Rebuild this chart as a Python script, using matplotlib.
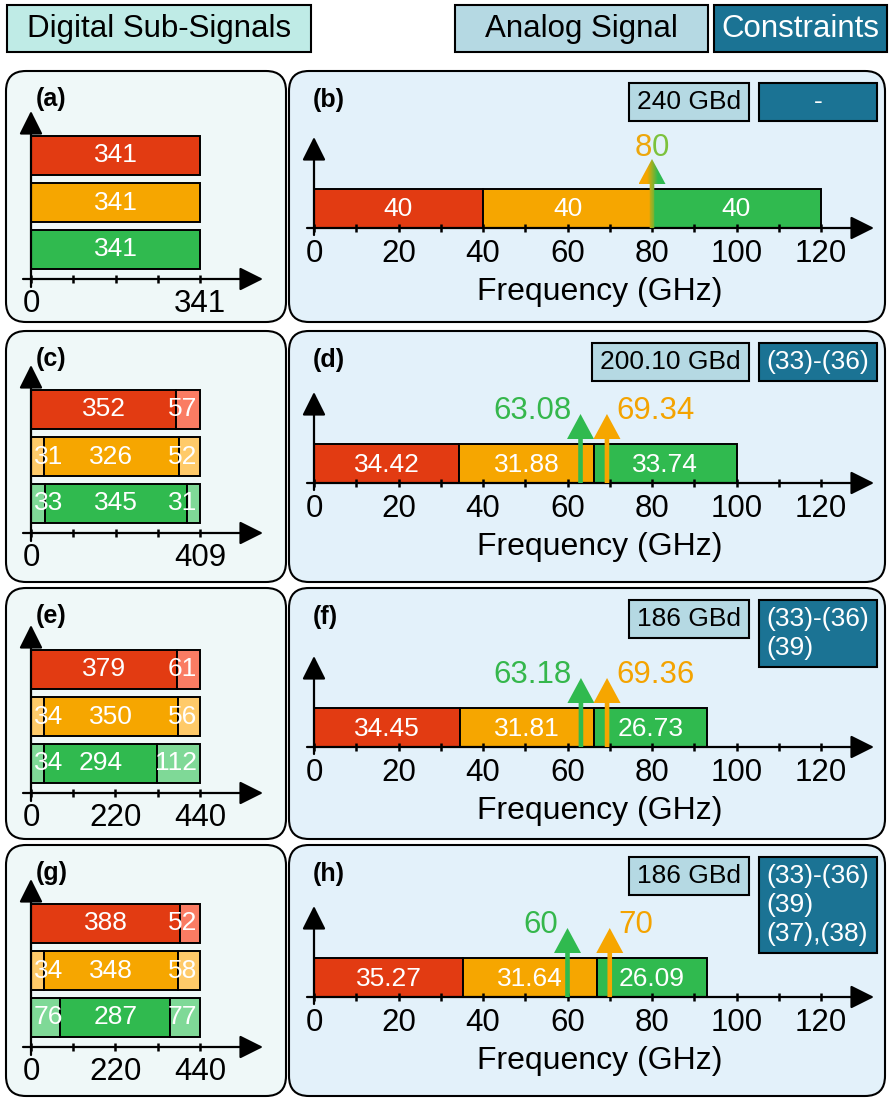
import numpy as np
import matplotlib
matplotlib.use('Agg')
import matplotlib.pyplot as plt
from matplotlib.patches import FancyBboxPatch, Rectangle, Polygon
from matplotlib.colors import LinearSegmentedColormap

plt.rcParams['font.family'] = ['Liberation Sans', 'DejaVu Sans']

# ---- sub-signal symbol allocation (left guard, payload, right guard) ----
left_tags = ['(a)', '(c)', '(e)', '(g)']
sym_total = [341, 409, 440, 440]
sym_tickpos = [[0, 341], [0, 409], [0, 220, 440], [0, 220, 440]]
sym_ticklabels = [['0', '341'], ['0', '409'], ['0', '220', '440'], ['0', '220', '440']]
red_syms = [[0, 341, 0], [0, 352, 57], [0, 379, 61], [0, 388, 52]]
orange_syms = [[0, 341, 0], [31, 326, 52], [34, 350, 56], [34, 348, 58]]
green_syms = [[0, 341, 0], [33, 345, 31], [34, 294, 112], [76, 287, 77]]

# ---- analog spectrum (GHz) ----
right_tags = ['(b)', '(d)', '(f)', '(h)']
bw_red = [40, 34.42, 34.45, 35.27]
bw_orange = [40, 31.88, 31.81, 31.64]
bw_green = [40, 33.74, 26.73, 26.09]
fc_green = [80, 63.08, 63.18, 60]
fc_orange = [80, 69.34, 69.36, 70]
freq_ticks = [0, 20, 40, 60, 80, 100, 120]
freq_minor = [10, 30, 50, 70, 90, 110]
baud_rate = ['240 GBd', '200.10 GBd', '186 GBd', '186 GBd']
constraint_eqs = [['-'], ['(33)-(36)'], ['(33)-(36)', '(39)'],
                  ['(33)-(36)', '(39)', '(37),(38)']]
headers = ['Digital Sub-Signals', 'Analog Signal', 'Constraints']

# ---- colours ----
RED, ORANGE, GREEN = '#E23B12', '#F6A600', '#30BA4F'
RED_L, ORANGE_L, GREEN_L = '#FA7C63', '#FFCA69', '#7FD997'
TEAL_LIGHT, BLUE_LIGHT, TEAL_DARK = '#BFEBE6', '#B5D9E3', '#1B7394'
LEFT_BG, RIGHT_BG = '#EFF8F8', '#E3F1FA'

# ---- layout in pixels ----
W, H = 889, 1099
ROW_TOP = [71, 331, 588, 845]
ROW_H = 251
LEFT_SHIFT = [4, -2, 1, -2]       # content offset inside each rounded box
RIGHT_SHIFT = [2, -3, 4, -3]
LX0, LX1 = 6, 286
RX0, RX1 = 289, 885
L_ZERO, L_SPAN = 31, 169          # left x-axis: 0 at px 31, full count 169 px further
L_BAR_Y, L_BAR_H = [80.5, 127.5, 174.5], 39
L_AXIS, L_TIP, L_LBL = 204, 36, 237
R_ZERO, R_SCALE = 314, 507 / 120  # right x-axis: px per GHz
R_BAR_TOP, R_AXIS, R_TIP, R_LBL, R_XLBL = 116, 155, 64, 189, 227
HEAD_TIP, HEAD_BASE, HEAD_HW, SHAFT_HW = 86, 111, 13.5, 2.3

fig = plt.figure(figsize=(W / 100, H / 100), dpi=100)
canvas = fig.add_axes([0, 0, 1, 1])
canvas.set_xlim(0, W)
canvas.set_ylim(H, 0)
canvas.axis('off')
renderer = fig.canvas.get_renderer()


def px_axes(x0, y0, x1, y1):
    return fig.add_axes([x0 / W, 1 - y1 / H, (x1 - x0) / W, (y1 - y0) / H])


def axis_arrow(ax, start, tip):
    ax.annotate('', xy=tip, xytext=start,
                arrowprops=dict(arrowstyle='-|>', color='black', lw=1.6,
                                mutation_scale=36, shrinkA=0, shrinkB=0))


def rounded_panel(x0, y0, x1, y1, fc):
    canvas.add_patch(FancyBboxPatch((x0, y0), x1 - x0, y1 - y0,
                                    boxstyle='round,pad=0,rounding_size=20',
                                    fc=fc, ec='black', lw=1.5))


# header tags
header_boxes = [(7, 311, TEAL_LIGHT, 'black'), (455, 708, BLUE_LIGHT, 'black'),
                (714, 887, TEAL_DARK, 'white')]
for text, (x0, x1, fc, tc) in zip(headers, header_boxes):
    canvas.add_patch(Rectangle((x0, 5), x1 - x0, 47, fc=fc, ec='black', lw=1.5))
    canvas.text((x0 + x1) / 2, 29, text, ha='center', va='center',
                fontsize=22.5, color=tc)


def draw_symbols(ax, i, dy):
    total = sym_total[i]
    s = L_SPAN / total
    px = lambda p: p / s
    ax.set_xlim((LX0 - L_ZERO) / s, (LX1 - L_ZERO) / s)
    ax.set_ylim(ROW_H, 0)
    ax.axis('off')
    rows = [red_syms[i], orange_syms[i], green_syms[i]]
    for yc, counts, main, light in zip(L_BAR_Y, rows, [RED, ORANGE, GREEN],
                                       [RED_L, ORANGE_L, GREEN_L]):
        left = 0
        for k, n in enumerate(counts):
            if n == 0:
                continue
            ax.barh(yc, n, left=left, height=L_BAR_H,
                    color=main if k == 1 else light,
                    edgecolor='black', linewidth=1.4, zorder=2)
            if k == 0:
                x, ha = left + px(3), 'left'
            elif k == 2:
                x, ha = left + n - px(3), 'right'
            else:
                x, ha = left + n / 2, 'center'
            ax.text(x, yc, str(n), ha=ha, va='center', color='white',
                    fontsize=19, zorder=3)
            left += n
    ax.vlines(total * np.arange(5) / 4, L_AXIS - 4, L_AXIS + 4,
              color='black', lw=1.8)
    for tp, tl in zip(sym_tickpos[i], sym_ticklabels[i]):
        ax.text(tp, L_LBL, tl, ha='center', va='baseline', fontsize=22.5)
    axis_arrow(ax, (px(23 - L_ZERO), L_AXIS), (px(263 - L_ZERO), L_AXIS))
    axis_arrow(ax, (0, L_AXIS + 8), (0, L_TIP))
    ax.text(px(36 - L_ZERO), 28 - dy, left_tags[i], ha='left', va='center',
            fontsize=18, fontweight='bold')


def carrier(ax, f, colors):
    hw, sw = HEAD_HW / R_SCALE, SHAFT_HW / R_SCALE
    verts = [(f - sw, R_AXIS), (f - sw, HEAD_BASE), (f - hw, HEAD_BASE),
             (f, HEAD_TIP), (f + hw, HEAD_BASE), (f + sw, HEAD_BASE),
             (f + sw, R_AXIS)]
    if len(colors) == 1:
        ax.add_patch(Polygon(verts, closed=True, fc=colors[0], ec='none', zorder=4))
        return
    poly = Polygon(verts, closed=True, fc='none', ec='none', transform=ax.transData)
    ax.add_patch(poly)
    ramp = np.clip((np.linspace(0, 1, 256) - 0.3) / 0.4, 0, 1)[None, :]
    cmap = LinearSegmentedColormap.from_list('carrier', colors)
    im = ax.imshow(ramp, cmap=cmap, extent=(f - hw, f + hw, R_AXIS, HEAD_TIP),
                   aspect='auto', zorder=4, interpolation='bilinear')
    im.set_clip_path(poly)


def draw_spectrum(ax, i, dy):
    s = R_SCALE
    ax.set_ylim(ROW_H, 0)
    ax.axis('off')
    widths = [bw_red[i], bw_orange[i], bw_green[i]]
    starts = np.concatenate([[0], np.cumsum(widths)[:-1]])
    yc = (R_BAR_TOP + R_AXIS) / 2
    for x0, w, c in zip(starts, widths, [RED, ORANGE, GREEN]):
        ax.barh(yc, w, left=x0, height=R_AXIS - R_BAR_TOP, color=c,
                edgecolor='black', linewidth=1.4, zorder=2)
        ax.text(x0 + w / 2, yc + 1, f'{w:g}', ha='center', va='center',
                color='white', fontsize=19, zorder=3)

    g, o = fc_green[i], fc_orange[i]
    if g == o:
        carrier(ax, g, [ORANGE, GREEN])
        label = f'{g:g}'
        half = len(label) // 2
        ax.text(g, HEAD_TIP - 3, label[:half], ha='right', va='baseline',
                color='#EDA70C', fontsize=22.5)
        ax.text(g, HEAD_TIP - 3, label[half:], ha='left', va='baseline',
                color='#7CC23C', fontsize=22.5)
    else:
        carrier(ax, g, [GREEN])
        carrier(ax, o, [ORANGE])
        ax.text(g - 9 / s, HEAD_TIP + 5, f'{g:g}', ha='right', va='baseline',
                color='#35B74C', fontsize=22.5)
        ax.text(o + 9 / s, HEAD_TIP + 5, f'{o:g}', ha='left', va='baseline',
                color='#F4A300', fontsize=22.5)

    ax.vlines(freq_ticks + freq_minor, R_AXIS - 4, R_AXIS + 4,
              color='black', lw=1.8, zorder=3)
    for t in freq_ticks:
        ax.text(t, R_LBL, str(t), ha='center', va='baseline', fontsize=22.5)
    ax.text((600 - R_ZERO) / s, R_XLBL, 'Frequency (GHz)', ha='center',
            va='baseline', fontsize=23)
    axis_arrow(ax, ((307 - R_ZERO) / s, R_AXIS), ((874 - R_ZERO) / s, R_AXIS))
    axis_arrow(ax, (0, R_AXIS + 7), (0, R_TIP))
    ax.text((313 - R_ZERO) / s, 29 - dy, right_tags[i], ha='left', va='center',
            fontsize=18, fontweight='bold')
    ax.set_xlim((RX0 - R_ZERO) / s, (RX1 - R_ZERO) / s)
    ax.set_ylim(ROW_H, 0)


for i, top in enumerate(ROW_TOP):
    rounded_panel(LX0, top, LX1, top + ROW_H, LEFT_BG)
    rounded_panel(RX0, top, RX1, top + ROW_H, RIGHT_BG)

    # symbol-rate tag, width follows its text
    t = canvas.text(741, top + 31, baud_rate[i], ha='right', va='center',
                    fontsize=19, zorder=3)
    tw = t.get_window_extent(renderer).width
    canvas.add_patch(Rectangle((741 - tw - 8, top + 12), tw + 16, 38,
                               fc=BLUE_LIGHT, ec='black', lw=1.5, zorder=2))

    # constraint tag
    lines = constraint_eqs[i]
    bh = 38 + 29 * (len(lines) - 1)
    canvas.add_patch(Rectangle((759, top + 12), 118, bh, fc=TEAL_DARK,
                               ec='black', lw=1.5, zorder=2))
    for k, line in enumerate(lines):
        if len(lines) == 1:
            canvas.text(818, top + 31, line, ha='center', va='center',
                        color='white', fontsize=19, zorder=3)
        else:
            canvas.text(766, top + 31 + 29 * k, line, ha='left', va='center',
                        color='white', fontsize=19, zorder=3)

    ly, ry = top + LEFT_SHIFT[i], top + RIGHT_SHIFT[i]
    draw_symbols(px_axes(LX0, ly, LX1, ly + ROW_H), i, LEFT_SHIFT[i])
    draw_spectrum(px_axes(RX0, ry, RX1, ry + ROW_H), i, RIGHT_SHIFT[i])

fig.savefig('out.png', dpi=100)
